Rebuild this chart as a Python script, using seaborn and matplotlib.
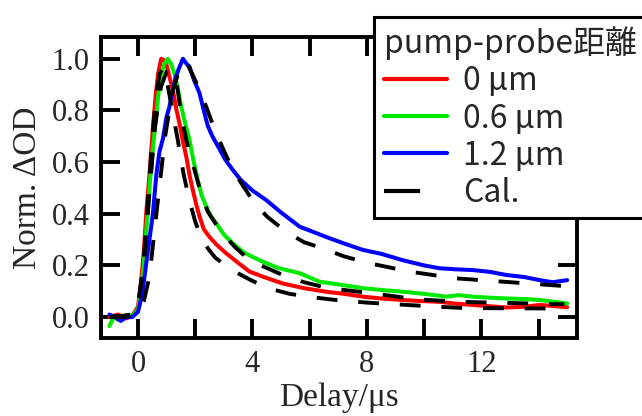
"""Normalized transient absorption vs delay for three pump-probe distances."""

import matplotlib
matplotlib.use("Agg")
import matplotlib.pyplot as plt
from matplotlib.lines import Line2D
from matplotlib.ticker import MultipleLocator
import pandas as pd
import seaborn as sns

# ─── Data ─────────────────────────────────────────────────────────────────────

x_red = [-1.0, -0.7, -0.4, -0.2, 0.0, 0.11, 0.2, 0.3, 0.4, 0.52, 0.62, 0.7, 0.81,
         0.9, 0.99, 1.1, 1.22, 1.33, 1.45, 1.57, 1.69, 1.8, 1.92, 2.05, 2.15, 2.3,
         2.5, 2.75, 3.08, 3.5, 3.9, 4.4, 5.06, 5.8, 6.58, 7.2, 7.86, 8.5, 9.26,
         9.9, 10.54, 11.1, 11.7, 12.3, 12.87, 13.5, 14.04, 14.5, 15.0]
y_red = [0.0, 0.01, -0.005, 0.005, 0.04, 0.14, 0.25, 0.42, 0.55, 0.73, 0.86, 0.94, 1.0,
         0.995, 0.98, 0.93, 0.88, 0.81, 0.75, 0.68, 0.62, 0.55, 0.49, 0.43, 0.39, 0.34,
         0.31, 0.28, 0.247, 0.21, 0.176, 0.155, 0.13, 0.112, 0.098, 0.09, 0.079, 0.072,
         0.066, 0.062, 0.059, 0.052, 0.047, 0.042, 0.037, 0.04, 0.047, 0.043, 0.038]

x_green = [-1.0, -0.85, -0.7, -0.5, -0.3, -0.15, 0.0, 0.1, 0.2, 0.3, 0.4, 0.5, 0.61,
           0.71, 0.81, 0.92, 1.04, 1.16, 1.28, 1.4, 1.51, 1.65, 1.8, 1.95, 2.09, 2.23,
           2.38, 2.55, 2.73, 3.0, 3.3, 3.7, 4.25, 4.9, 5.65, 6.35, 7.1, 7.86, 8.5,
           9.26, 10.0, 10.78, 11.2, 11.7, 12.3, 12.87, 13.5, 14.04, 14.5, 15.0]
y_green = [-0.035, 0.0, -0.01, 0.0, 0.005, 0.01, 0.03, 0.1, 0.2, 0.35, 0.5, 0.63, 0.75,
           0.86, 0.94, 0.98, 1.0, 0.98, 0.94, 0.88, 0.815, 0.75, 0.686, 0.6, 0.53, 0.47,
           0.43, 0.39, 0.364, 0.32, 0.287, 0.25, 0.22, 0.19, 0.17, 0.137, 0.125, 0.112,
           0.105, 0.098, 0.09, 0.079, 0.085, 0.079, 0.075, 0.072, 0.07, 0.066, 0.06, 0.053]

x_blue = [-1.0, -0.8, -0.6, -0.4, -0.2, 0.0, 0.15, 0.29, 0.4, 0.52, 0.64, 0.75, 0.87,
          0.99, 1.1, 1.2, 1.3, 1.42, 1.57, 1.7, 1.8, 1.95, 2.15, 2.3, 2.44, 2.6, 2.8,
          3.05, 3.31, 3.6, 4.0, 4.48, 5.0, 5.65, 6.0, 6.58, 7.2, 7.86, 8.5, 9.26, 10.0,
          10.54, 11.1, 11.7, 12.3, 12.87, 13.5, 14.04, 14.5, 15.0]
y_blue = [0.01, 0.0, -0.015, 0.0, 0.0, 0.02, 0.09, 0.21, 0.3, 0.4, 0.55, 0.64, 0.69,
          0.77, 0.815, 0.87, 0.92, 0.96, 1.0, 0.98, 0.97, 0.92, 0.867, 0.8, 0.74, 0.7,
          0.66, 0.61, 0.57, 0.53, 0.49, 0.453, 0.405, 0.35, 0.335, 0.31, 0.285, 0.26,
          0.245, 0.22, 0.2, 0.189, 0.185, 0.182, 0.175, 0.163, 0.155, 0.143, 0.135, 0.143]

# calculated curves (dashed)
x_cal_red = [-1.0, -0.5, -0.2, 0.0, 0.2, 0.35, 0.5, 0.62, 0.75, 0.87, 1.0, 1.2, 1.4,
             1.6, 1.8, 2.0, 2.2, 2.45, 2.7, 3.0, 3.4, 4.0, 4.6, 5.3, 6.0, 7.0, 8.0,
             9.4, 10.5, 11.4, 13.0, 14.9]
y_cal_red = [0.0, 0.005, 0.01, 0.04, 0.22, 0.45, 0.7, 0.84, 0.94, 0.965, 0.92, 0.8, 0.68,
             0.55, 0.45, 0.37, 0.31, 0.265, 0.23, 0.205, 0.175, 0.14, 0.11, 0.09, 0.078,
             0.065, 0.056, 0.047, 0.04, 0.035, 0.034, 0.033]

x_cal_green = [-1.0, -0.5, -0.2, 0.0, 0.2, 0.4, 0.6, 0.8, 1.0, 1.2, 1.35, 1.5, 1.7,
               1.9, 2.15, 2.43, 2.9, 3.4, 3.9, 4.5, 5.06, 5.8, 6.46, 7.2, 8.1, 9.0,
               9.7, 10.5, 11.24, 12.87, 14.6, 14.9]
y_cal_green = [0.0, 0.005, 0.01, 0.04, 0.2, 0.48, 0.74, 0.89, 0.95, 0.955, 0.91, 0.79,
               0.68, 0.6, 0.5, 0.41, 0.33, 0.27, 0.22, 0.19, 0.163, 0.135, 0.117, 0.105,
               0.093, 0.08, 0.069, 0.064, 0.059, 0.055, 0.05, 0.05]

x_cal_blue = [-1.0, -0.5, -0.2, 0.0, 0.2, 0.4, 0.58, 0.75, 0.95, 1.2, 1.45, 1.68, 1.9,
              2.15, 2.4, 2.7, 3.0, 3.27, 3.6, 4.0, 4.5, 5.18, 5.8, 6.46, 7.2, 8.1, 9.5,
              11.1, 12.76, 14.4, 14.9]
y_cal_blue = [0.0, 0.0, 0.005, 0.02, 0.06, 0.156, 0.337, 0.505, 0.7, 0.87, 0.96, 0.99,
              0.94, 0.88, 0.81, 0.72, 0.645, 0.58, 0.52, 0.453, 0.39, 0.33, 0.29, 0.266,
              0.235, 0.208, 0.176, 0.15, 0.137, 0.124, 0.12]

labels = ["0 μm", "0.6 μm", "1.2 μm", "Cal."]
colors = ["#ff0000", "#00e800", "#0000ff", "#000000"]

# ─── Plot ─────────────────────────────────────────────────────────────────────

sns.set_theme(style="ticks")
plt.rcParams["font.family"] = ["Liberation Serif", "DejaVu Serif"]
plt.rcParams["lines.scale_dashes"] = False

fig = plt.figure(figsize=(6.42, 4.16), dpi=100)
ax = fig.add_axes([0.157, 0.1875, 0.742, 0.724])

series = [(x_red, y_red, colors[0]), (x_green, y_green, colors[1]), (x_blue, y_blue, colors[2])]
for xs, ys, c in series:
    df = pd.DataFrame({"delay": xs, "od": ys})
    sns.lineplot(data=df, x="delay", y="od", color=c, lw=2.9, ax=ax)

for xs, ys in [(x_cal_red, y_cal_red), (x_cal_green, y_cal_green), (x_cal_blue, y_cal_blue)]:
    df = pd.DataFrame({"delay": xs, "od": ys})
    sns.lineplot(data=df, x="delay", y="od", color="black", lw=2.8,
                 linestyle=(0, (15, 15)), ax=ax)

ax.set_xlim(-1.3, 15.35)
ax.set_ylim(-0.081, 1.085)
ax.xaxis.set_major_locator(MultipleLocator(4))
ax.xaxis.set_minor_locator(MultipleLocator(2))
ax.yaxis.set_major_locator(MultipleLocator(0.2))
ax.yaxis.set_major_formatter(plt.FuncFormatter(lambda v, _: f"{v:.1f}"))
ax.tick_params(which="both", direction="in", top=True, right=True,
               length=14, width=2.8, color="black")
ax.tick_params(axis="x", which="major", labelsize=22, pad=9)
ax.tick_params(axis="y", which="major", labelsize=22, pad=8)
for sp in ax.spines.values():
    sp.set_linewidth(2.8)
    sp.set_color("black")

ax.set_xlabel("Delay/μs", fontsize=24, labelpad=2)
ax.set_ylabel("Norm. ΔOD", fontsize=24, labelpad=6)

cjk = ["Noto Sans CJK JP", "DejaVu Sans"]
handles = [Line2D([], [], color=c, lw=3) for c in colors[:3]]
handles.append(Line2D([], [], color="black", lw=3, linestyle=(0, (26, 30))))
leg = fig.legend(handles, labels, title="pump-probe距離", loc="upper left",
                 bbox_to_anchor=(374 / 642, 1 - 17 / 416), borderaxespad=0,
                 frameon=True, fancybox=False, framealpha=1, edgecolor="black",
                 prop={"family": cjk, "size": 23},
                 title_fontproperties={"family": cjk, "size": 23},
                 alignment="left", handlelength=2.0, handletextpad=0.5,
                 labelspacing=0.16, borderpad=0.3)
leg.get_frame().set_linewidth(2.2)

fig.savefig("out.png", dpi=100)
plt.close(fig)
